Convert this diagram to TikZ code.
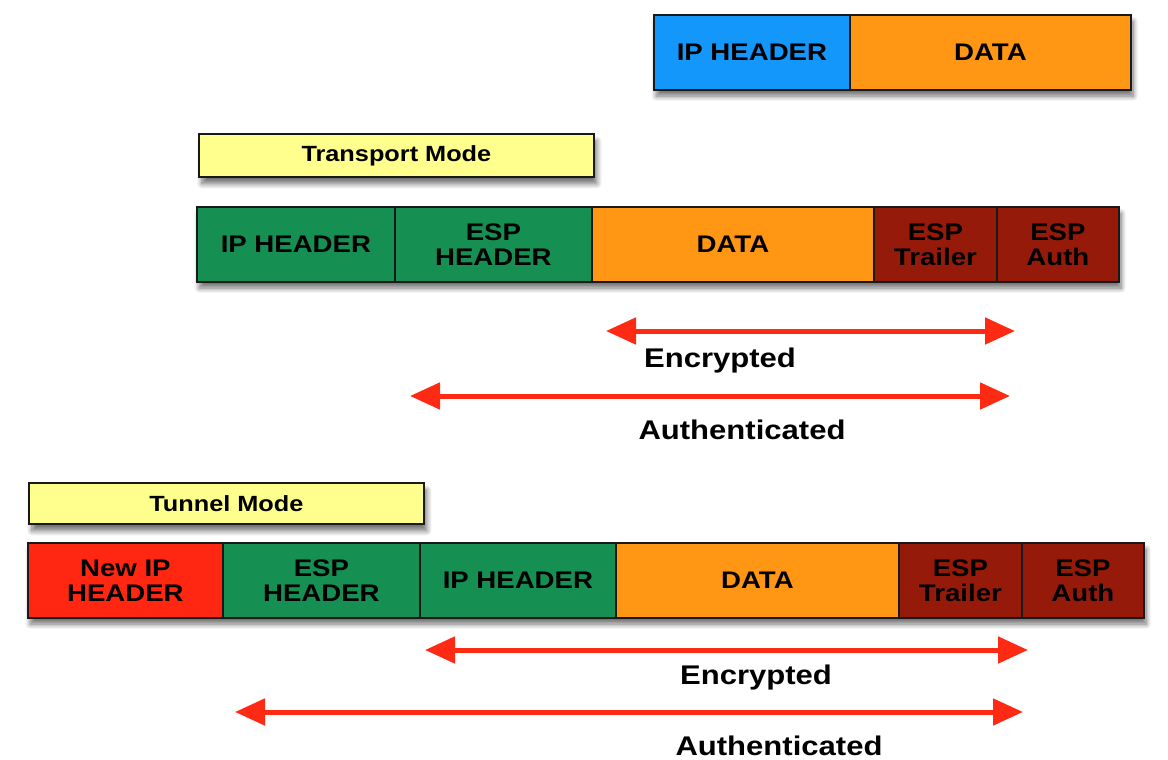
\documentclass[tikz,border=0pt]{standalone}
\usepackage{fontspec}
\setmainfont{Liberation Sans}[FakeStretch=1.15]
\usetikzlibrary{arrows.meta,shadows.blur}
\definecolor{ipblue}{HTML}{1497FB}
\definecolor{dataorange}{HTML}{FF9614}
\definecolor{espgreen}{HTML}{168F52}
\definecolor{espred}{HTML}{961A0A}
\definecolor{newred}{HTML}{FF2612}
\definecolor{modeyellow}{HTML}{FFFF8E}
\definecolor{arrowred}{HTML}{FF2A14}
\begin{document}
\begin{tikzpicture}[x=1pt,y=-1pt,
  shd/.style={blur shadow={shadow xshift=3pt, shadow yshift=-7pt, shadow blur radius=5pt, shadow blur steps=10, shadow opacity=55}},
  rowshadow/.style={shd, inner sep=0pt, minimum height=75pt, anchor=north west},
  cell/.style={draw=black!90, line width=1.8pt, minimum height=75pt, inner sep=0pt, anchor=north west, align=center, font=\fontsize{24}{25}\selectfont\bfseries},
  modebox/.style={shd, draw=black!90, line width=1.8pt, fill=modeyellow, minimum width=395pt, inner sep=0pt, anchor=north west, font=\fontsize{22}{24}\selectfont\bfseries},
  span/.style={draw=arrowred, line width=5pt, {Triangle[length=30pt,width=26pt]}-{Triangle[length=30pt,width=26pt]}},
  spanlabel/.style={font=\fontsize{27}{29}\selectfont\bfseries, inner sep=0pt}]
\useasboundingbox (0,0) rectangle (1168,760);

% original packet
\node[rowshadow, minimum width=477pt] (orow) at (653,14) {};
\node[cell, fill=ipblue, minimum width=196pt] (oip) at (653,14) {IP HEADER};
\node[cell, fill=dataorange, minimum width=281pt] (odata) at (849,14) {DATA};

% transport mode
\node[modebox, minimum height=43pt] (tm) at (198,133) {Transport Mode};
\node[rowshadow, minimum width=922pt] (trow) at (196,206) {};
\node[cell, fill=espgreen, minimum width=198pt] (tip) at (196,206) {IP HEADER};
\node[cell, fill=espgreen, minimum width=197pt] (tesp) at (394,206) {ESP\\HEADER};
\node[cell, fill=dataorange, minimum width=282pt] (tdata) at (591,206) {DATA};
\node[cell, fill=espred, minimum width=123pt] (ttr) at (873,206) {ESP\\Trailer};
\node[cell, fill=espred, minimum width=122pt] (tauth) at (996,206) {ESP\\Auth};

\coordinate (te1) at (606,331);
\coordinate (te2) at (1015,331);
\draw[span] (te1) -- (te2);
\node[spanlabel] (tenc) at (720,361) {Encrypted};
\coordinate (ta1) at (410,396);
\coordinate (ta2) at (1010,396);
\draw[span] (ta1) -- (ta2);
\node[spanlabel] (tauthl) at (742,430) {Authenticated};

% tunnel mode
\node[modebox, minimum height=41pt] (um) at (28,482) {Tunnel Mode};
\node[rowshadow, minimum width=1116pt] (urow) at (27,542) {};
\node[cell, fill=newred, minimum width=195pt] (unew) at (27,542) {New IP\\HEADER};
\node[cell, fill=espgreen, minimum width=197pt] (uesp) at (222,542) {ESP\\HEADER};
\node[cell, fill=espgreen, minimum width=196pt] (uip) at (419,542) {IP HEADER};
\node[cell, fill=dataorange, minimum width=283pt] (udata) at (615,542) {DATA};
\node[cell, fill=espred, minimum width=123pt] (utr) at (898,542) {ESP\\Trailer};
\node[cell, fill=espred, minimum width=122pt] (uauth) at (1021,542) {ESP\\Auth};

\coordinate (ue1) at (425,650);
\coordinate (ue2) at (1028,650);
\draw[span] (ue1) -- (ue2);
\node[spanlabel] (uenc) at (756,678) {Encrypted};
\coordinate (ua1) at (235,712);
\coordinate (ua2) at (1023,712);
\draw[span] (ua1) -- (ua2);
\node[spanlabel] (uauthl) at (779,746) {Authenticated};
\end{tikzpicture}
\end{document}
